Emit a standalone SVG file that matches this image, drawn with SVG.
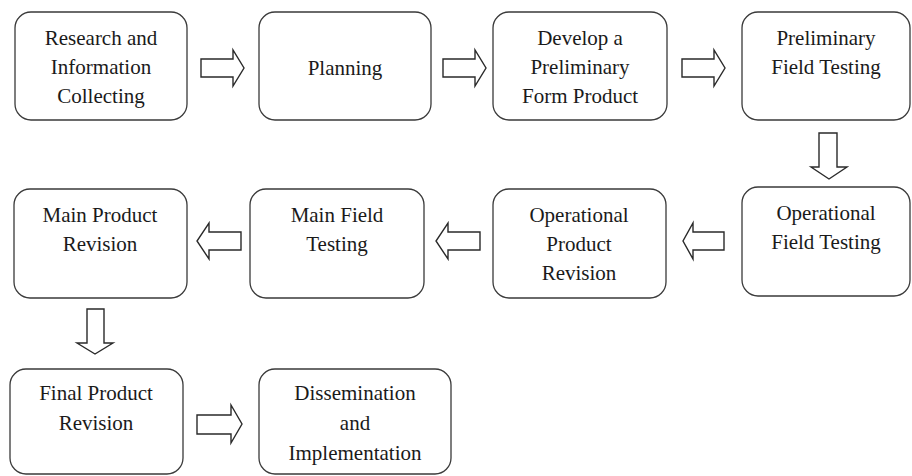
<svg xmlns="http://www.w3.org/2000/svg" width="912" height="476" viewBox="0 0 912 476">
<style>
.box{fill:#fff;stroke:#3a3a3a;stroke-width:1.3}
.arr{fill:#fff;stroke:#2a2a2a;stroke-width:1.4;stroke-linejoin:miter}
text{font-family:"Liberation Serif","Times New Roman",serif;font-size:21px;fill:#1a1a1a;text-anchor:middle}
</style>
<rect width="912" height="476" fill="#fff"/>
<g id="n1"><rect class="box" x="15" y="12" width="172" height="108" rx="16"/>
<text x="101" y="45">Research and</text><text x="101" y="74">Information</text><text x="101" y="103">Collecting</text></g>
<g id="n2"><rect class="box" x="259" y="12" width="172" height="108" rx="16"/>
<text x="345" y="75">Planning</text></g>
<g id="n3"><rect class="box" x="493" y="12" width="174" height="108" rx="16"/>
<text x="580" y="45">Develop a</text><text x="580" y="74">Preliminary</text><text x="580" y="103">Form Product</text></g>
<g id="n4"><rect class="box" x="742" y="12" width="168" height="108" rx="16"/>
<text x="826" y="45">Preliminary</text><text x="826" y="74">Field Testing</text></g>
<g id="n5"><rect class="box" x="742" y="187" width="168" height="109" rx="16"/>
<text x="826" y="220">Operational</text><text x="826" y="249">Field Testing</text></g>
<g id="n6"><rect class="box" x="493" y="189" width="173" height="109" rx="16"/>
<text x="579" y="222">Operational</text><text x="579" y="251">Product</text><text x="579" y="280">Revision</text></g>
<g id="n7"><rect class="box" x="250" y="189" width="174" height="109" rx="16"/>
<text x="337" y="222">Main Field</text><text x="337" y="251">Testing</text></g>
<g id="n8"><rect class="box" x="14" y="189" width="173" height="109" rx="16"/>
<text x="100" y="222">Main Product</text><text x="100" y="251">Revision</text></g>
<g id="n9"><rect class="box" x="10" y="369" width="173" height="105" rx="16"/>
<text x="96" y="400">Final Product</text><text x="96" y="430">Revision</text></g>
<g id="n10"><rect class="box" x="259" y="369" width="192" height="105" rx="16"/>
<text x="355" y="400">Dissemination</text><text x="355" y="430">and</text><text x="355" y="460">Implementation</text></g>
<g id="connectors">
<path class="arr" d="M201,59 H233 V50 L244,68 L233,86 V77 H201 Z"/>
<path class="arr" d="M443,59 H475 V50 L486,68 L475,86 V77 H443 Z"/>
<path class="arr" d="M682,59 H714 V50 L725,68 L714,86 V77 H682 Z"/>
<path class="arr" d="M819,133 H837 V167 H847 L829,179 L811,167 H819 Z"/>
<path class="arr" d="M724,232 V250 H693 V259 L683,241 L693,223 V232 Z"/>
<path class="arr" d="M480,232 V250 H448 V259 L436,241 L448,223 V232 Z"/>
<path class="arr" d="M241,232 V250 H209 V259 L197,241 L209,223 V232 Z"/>
<path class="arr" d="M87,309 H104 V343 H113 L95,354 L77,343 H87 Z"/>
<path class="arr" d="M197,415 H231 V405 L242,424 L231,443 V434 H197 Z"/>
</g>
</svg>
